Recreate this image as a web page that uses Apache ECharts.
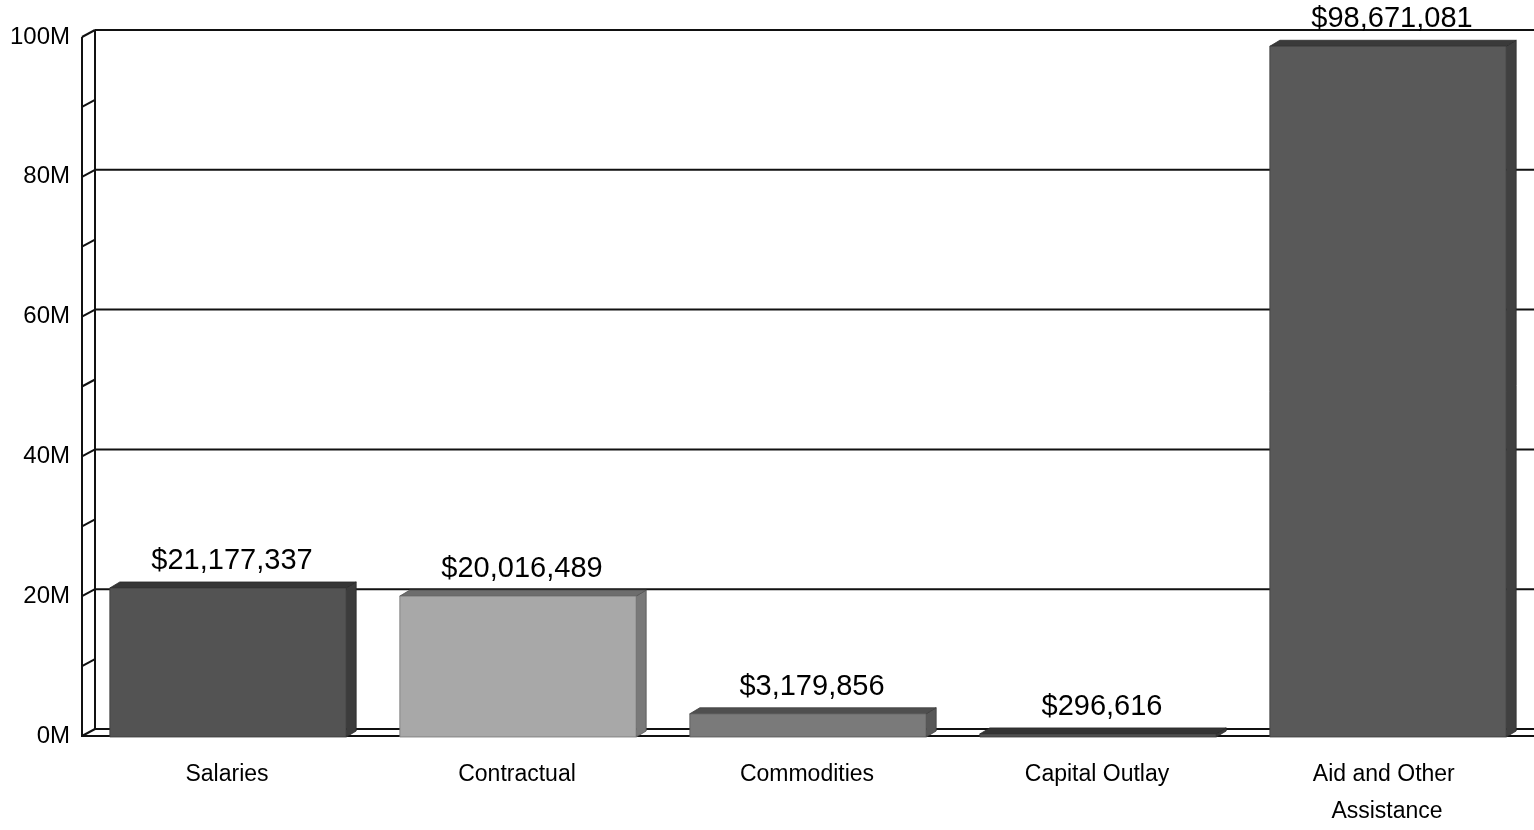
<!DOCTYPE html>
<html>
<head>
<meta charset="utf-8">
<script src="https://cdn.jsdelivr.net/npm/echarts@6/dist/echarts.min.js"></script>
<style>
  html, body { margin: 0; padding: 0; background: #ffffff; }
  #chart { width: 1534px; height: 830px; }
</style>
</head>
<body>
<div id="chart"></div>
<script>
// Expenditure by category
const categories = ['Salaries', 'Contractual', 'Commodities', 'Capital Outlay', 'Aid and Other Assistance'];
const amounts = [21177337, 20016489, 3179856, 296616, 98671081];
// value-axis ticks: labelled every 20M, minor marks every 10M
const yLabelTicks = [0, 20000000, 40000000, 60000000, 80000000, 100000000];
const yMinorTicks = [0, 10000000, 20000000, 30000000, 40000000, 50000000, 60000000, 70000000, 80000000, 90000000, 100000000];

const palette = ['#535353', '#a8a8a8', '#7a7a7a', '#505050', '#595959'];

// depth of the back wall and of the bars (pixels)
const WDX = 13, WDY = 7;
const BDX = 10, BDY = 6;
const INK = '#111111';

function shade(hex, f) {
  const n = parseInt(hex.slice(1), 16);
  const ch = [(n >> 16) & 255, (n >> 8) & 255, n & 255].map(c => Math.max(0, Math.min(255, Math.round(c * (1 + f)))));
  return 'rgb(' + ch.join(',') + ')';
}
function money(v) { return '$' + Math.round(v).toLocaleString('en-US'); }

const chart = echarts.init(document.getElementById('chart'), null, { renderer: 'canvas' });

function renderWall(params, api) {
  const cs = params.coordSys;
  const v = api.value(1);
  const p = api.coord([0, v]);
  const yf = p[1];
  const xf = cs.x, xb = cs.x + WDX, yb = yf - WDY;
  const right = cs.x + cs.width + 40;
  const kids = [];
  const line = (x1, y1, x2, y2) => ({ type: 'line', shape: { x1, y1, x2, y2 }, style: { stroke: INK, lineWidth: 2 } });
  kids.push(line(xf, yf, xb, yb));
  if (yLabelTicks.indexOf(v) >= 0) kids.push(line(xb, yb, right, yb));
  if (v === 0) {
    kids.push(line(xf, yf, right, yf));
    const top = api.coord([0, yMinorTicks[yMinorTicks.length - 1]])[1];
    kids.push(line(xf, top, xf, yf + 1));
    kids.push(line(xb, top - WDY, xb, yb));
  }
  return { type: 'group', children: kids };
}

function renderBar(params, api) {
  const i = api.value(0), v = api.value(1);
  const top = api.coord([i, v]);
  const base = api.coord([i, 0]);
  const band = api.size([1, 0])[0];
  const w = band * 0.815;
  const x0 = top[0] - w / 2 + 1, x1 = top[0] + w / 2 + 1;
  const yt = top[1], yb = base[1] + 1;
  const c = palette[i];
  return {
    type: 'group',
    children: [
      { type: 'polygon', shape: { points: [[x1, yt], [x1 + BDX, yt - BDY], [x1 + BDX, yb - BDY], [x1, yb]] },
        style: { fill: shade(c, -0.28), stroke: shade(c, -0.5), lineWidth: 0.8 } },
      { type: 'polygon', shape: { points: [[x0, yt], [x0 + BDX, yt - BDY], [x1 + BDX, yt - BDY], [x1, yt]] },
        style: { fill: shade(c, -0.35), stroke: shade(c, -0.5), lineWidth: 0.8 } },
      { type: 'rect', shape: { x: x0, y: yt, width: w, height: Math.max(yb - yt, 0) },
        style: { fill: c, stroke: shade(c, -0.3), lineWidth: 0.8 } },
      { type: 'text', x: top[0] + BDX / 2, y: yt - BDY - 21,
        style: { text: money(v), textAlign: 'center', textVerticalAlign: 'middle',
                 fill: '#000', fontSize: 29, fontFamily: '"Liberation Sans Narrow", "Liberation Sans", Arial, sans-serif' } }
    ]
  };
}

chart.setOption({
  animation: false,
  backgroundColor: '#ffffff',
  grid: { left: 82, right: 2, top: 37, bottom: 82, containLabel: false },
  xAxis: {
    type: 'category',
    data: categories,
    axisLine: { show: false },
    axisTick: { show: false },
    axisLabel: {
      interval: 0, margin: 20, color: '#000', fontSize: 23, lineHeight: 37,
      fontFamily: '"Liberation Sans", Arial, sans-serif',
      width: 200, overflow: 'break'
    },
    splitLine: { show: false }
  },
  yAxis: {
    type: 'value', min: 0, max: 100000000, interval: 20000000,
    axisLine: { show: false }, axisTick: { show: false }, splitLine: { show: false },
    axisLabel: {
      margin: 12, color: '#000', fontSize: 24,
      fontFamily: '"Liberation Sans", Arial, sans-serif',
      formatter: v => (v / 1000000) + 'M'
    }
  },
  series: [
    {
      type: 'custom', name: 'wall', z: 1, clip: false, silent: true,
      renderItem: renderWall,
      encode: { x: 0, y: 1 },
      data: yMinorTicks.map(v => [0, v])
    },
    {
      type: 'custom', name: 'Amount', z: 5, clip: false,
      renderItem: renderBar,
      encode: { x: 0, y: 1 },
      data: amounts.map((v, i) => [i, v])
    }
  ]
});
</script>
</body>
</html>
